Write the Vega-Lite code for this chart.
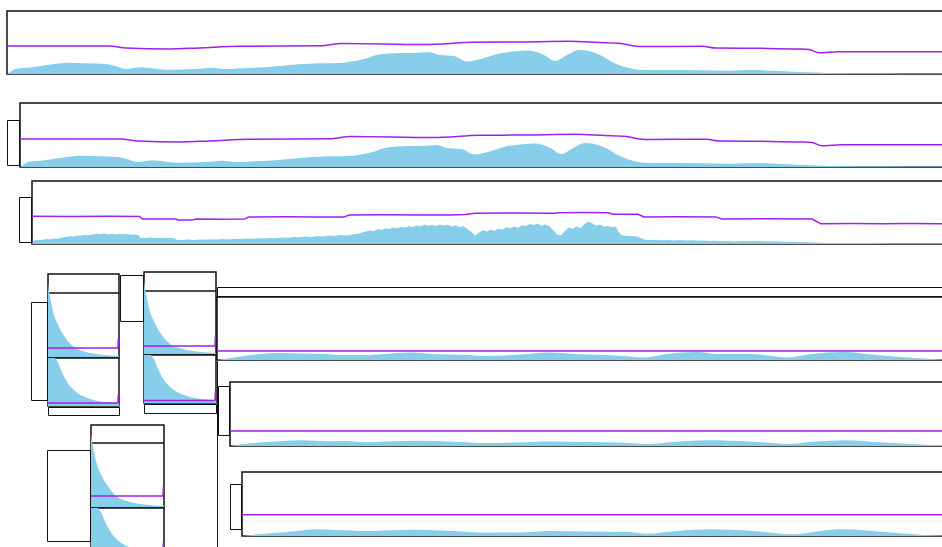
{
"$schema": "https://vega.github.io/schema/vega-lite/v6.json",
"padding": {"left": 6, "top": 10, "right": 0, "bottom": 0},
"config": {"view": {"stroke": "#111", "strokeWidth": 1.5}, "concat": {"spacing": -4}},
"datasets": {
"one": [{"k": 1}],
"r64": [{"x": 0, "x2": 71, "y": 64}],
"r63": [{"x": 0, "x2": 71, "y": 63}],
"aA": [{"x":0,"y":0},{"x":2,"y":1},{"x":8,"y":5},{"x":25,"y":6.7},{"x":42,"y":9.3},{"x":62,"y":11.3},{"x":79,"y":10.7},{"x":99,"y":10},{"x":109,"y":7.7},{"x":119,"y":5},{"x":135,"y":6.7},{"x":145,"y":5.7},{"x":159,"y":4.3},{"x":192,"y":5.3},{"x":205,"y":6.3},{"x":219,"y":5},{"x":242,"y":6},{"x":259,"y":6.7},{"x":275,"y":8.3},{"x":292,"y":9.7},{"x":312,"y":10.7},{"x":332,"y":11},{"x":342,"y":12},{"x":357,"y":15},{"x":372,"y":19.5},{"x":392,"y":21},{"x":407,"y":21},{"x":422,"y":22},{"x":432,"y":19},{"x":447,"y":18},{"x":460,"y":12.5},{"x":477,"y":16},{"x":492,"y":20.5},{"x":507,"y":22.5},{"x":522,"y":23.5},{"x":537,"y":19},{"x":548,"y":13},{"x":560,"y":19},{"x":572,"y":24},{"x":587,"y":21.5},{"x":597,"y":17},{"x":605,"y":12},{"x":612,"y":9},{"x":622,"y":6},{"x":632,"y":4.3},{"x":652,"y":4},{"x":692,"y":3.8},{"x":722,"y":3.3},{"x":745,"y":4},{"x":772,"y":3},{"x":792,"y":2},{"x":809,"y":1.5},{"x":822,"y":1},{"x":872,"y":0.7},{"x":934,"y":0.5},{"x":960,"y":0.5}],
"lA": [{"x":0,"y":28},{"x":102,"y":28},{"x":119,"y":26},{"x":162,"y":25},{"x":192,"y":26},{"x":232,"y":27.7},{"x":316,"y":28.3},{"x":334,"y":30.5},{"x":418,"y":29.5},{"x":466,"y":31.7},{"x":512,"y":32},{"x":562,"y":32.7},{"x":592,"y":31.5},{"x":612,"y":30.7},{"x":632,"y":27.5},{"x":695,"y":27.7},{"x":709,"y":26},{"x":752,"y":25.7},{"x":792,"y":25},{"x":802,"y":24.5},{"x":812,"y":21.3},{"x":832,"y":22.3},{"x":934,"y":22.3},{"x":960,"y":22.3}],
"aC": [{"x":0,"y":0},{"x":2,"y":3.5},{"x":6,"y":4.2},{"x":10,"y":4.0},{"x":14,"y":4.9},{"x":18,"y":4.6},{"x":22,"y":5.6},{"x":26,"y":5.2},{"x":30,"y":6.4},{"x":34,"y":6.9},{"x":38,"y":7.8},{"x":42,"y":7.4},{"x":46,"y":8.6},{"x":50,"y":8.2},{"x":54,"y":9.1},{"x":58,"y":8.7},{"x":62,"y":9.6},{"x":66,"y":10.3},{"x":70,"y":9.8},{"x":74,"y":10.4},{"x":78,"y":9.6},{"x":82,"y":10.1},{"x":86,"y":9.4},{"x":90,"y":10.2},{"x":94,"y":9.7},{"x":98,"y":9.9},{"x":102,"y":9.2},{"x":106,"y":9.6},{"x":109,"y":9.0},{"x":111,"y":6.2},{"x":116,"y":6.0},{"x":122,"y":6.4},{"x":128,"y":5.9},{"x":134,"y":6.3},{"x":140,"y":6.0},{"x":146,"y":5.8},{"x":148,"y":4.2},{"x":154,"y":4.0},{"x":160,"y":4.4},{"x":166,"y":4.1},{"x":172,"y":4.6},{"x":178,"y":4.3},{"x":184,"y":4.8},{"x":190,"y":4.5},{"x":196,"y":4.9},{"x":202,"y":4.6},{"x":208,"y":5.3},{"x":214,"y":5.0},{"x":220,"y":5.6},{"x":226,"y":5.2},{"x":232,"y":5.8},{"x":238,"y":5.4},{"x":244,"y":6.0},{"x":250,"y":5.7},{"x":256,"y":6.6},{"x":262,"y":6.2},{"x":268,"y":7.1},{"x":274,"y":6.7},{"x":280,"y":7.5},{"x":286,"y":7.1},{"x":292,"y":7.9},{"x":298,"y":7.6},{"x":304,"y":8.4},{"x":310,"y":8.0},{"x":316,"y":8.9},{"x":322,"y":8.6},{"x":328,"y":9.6},{"x":334,"y":10.2},{"x":338,"y":11.5},{"x":342,"y":12.4},{"x":346,"y":13.6},{"x":350,"y":13.1},{"x":354,"y":14.8},{"x":358,"y":14.2},{"x":362,"y":15.6},{"x":366,"y":15.0},{"x":370,"y":16.4},{"x":374,"y":15.7},{"x":378,"y":17.0},{"x":382,"y":16.4},{"x":386,"y":17.8},{"x":390,"y":17.1},{"x":394,"y":18.5},{"x":398,"y":17.6},{"x":402,"y":19.4},{"x":406,"y":18.3},{"x":410,"y":19.0},{"x":414,"y":17.9},{"x":418,"y":19.6},{"x":422,"y":18.4},{"x":426,"y":19.2},{"x":430,"y":17.6},{"x":434,"y":18.6},{"x":438,"y":16.9},{"x":442,"y":17.8},{"x":446,"y":15.2},{"x":450,"y":12.0},{"x":454,"y":8.5},{"x":458,"y":11.2},{"x":462,"y":13.8},{"x":466,"y":12.6},{"x":470,"y":14.4},{"x":474,"y":13.2},{"x":478,"y":15.6},{"x":482,"y":14.6},{"x":486,"y":16.8},{"x":490,"y":15.9},{"x":494,"y":17.5},{"x":498,"y":16.2},{"x":502,"y":18.8},{"x":506,"y":17.9},{"x":510,"y":20.1},{"x":514,"y":19.0},{"x":518,"y":20.6},{"x":522,"y":18.2},{"x":526,"y":19.4},{"x":530,"y":17.5},{"x":534,"y":14.0},{"x":538,"y":9.5},{"x":542,"y":8.8},{"x":546,"y":13.0},{"x":550,"y":16.5},{"x":554,"y":15.2},{"x":558,"y":17.8},{"x":562,"y":16.1},{"x":566,"y":20.0},{"x":570,"y":22.3},{"x":574,"y":20.8},{"x":578,"y":18.2},{"x":582,"y":19.5},{"x":586,"y":17.4},{"x":590,"y":18.1},{"x":594,"y":16.8},{"x":598,"y":17.2},{"x":601,"y":12.0},{"x":604,"y":9.0},{"x":608,"y":8.3},{"x":614,"y":8.0},{"x":620,"y":7.4},{"x":624,"y":6.0},{"x":628,"y":4.2},{"x":634,"y":4.0},{"x":640,"y":4.3},{"x":646,"y":3.8},{"x":652,"y":4.0},{"x":658,"y":3.6},{"x":664,"y":3.9},{"x":670,"y":3.5},{"x":676,"y":3.7},{"x":682,"y":3.3},{"x":688,"y":3.5},{"x":694,"y":3.1},{"x":700,"y":3.2},{"x":706,"y":2.8},{"x":712,"y":2.9},{"x":718,"y":2.5},{"x":724,"y":2.8},{"x":730,"y":3.0},{"x":736,"y":2.7},{"x":742,"y":3.1},{"x":748,"y":2.8},{"x":754,"y":2.6},{"x":760,"y":2.4},{"x":766,"y":2.5},{"x":772,"y":2.1},{"x":778,"y":2.2},{"x":784,"y":1.9},{"x":790,"y":1.8},{"x":796,"y":1.7},{"x":802,"y":1.5},{"x":808,"y":1.2},{"x":814,"y":1.1},{"x":820,"y":1.0},{"x":830,"y":1.0},{"x":840,"y":0.9},{"x":860,"y":0.9},{"x":880,"y":0.8},{"x":900,"y":0.8},{"x":920,"y":0.7},{"x":940,"y":0.7},{"x":960,"y":0.6}],
"lC": [{"x":0,"y":27.7},{"x":40,"y":27.5},{"x":80,"y":27.8},{"x":110,"y":27.6},{"x":113,"y":25.0},{"x":147,"y":25.1},{"x":150,"y":24.0},{"x":165,"y":24.1},{"x":168,"y":25.0},{"x":190,"y":24.8},{"x":218,"y":25.1},{"x":222,"y":27.0},{"x":260,"y":27.2},{"x":290,"y":26.9},{"x":320,"y":27.1},{"x":325,"y":29.0},{"x":360,"y":29.2},{"x":400,"y":28.9},{"x":423,"y":29.1},{"x":428,"y":29.0},{"x":444,"y":29.6},{"x":454,"y":30.7},{"x":490,"y":30.9},{"x":535,"y":30.7},{"x":540,"y":31.3},{"x":565,"y":31.5},{"x":590,"y":31.3},{"x":596,"y":29.7},{"x":621,"y":29.7},{"x":627,"y":27.0},{"x":660,"y":27.2},{"x":701,"y":26.9},{"x":707,"y":25.0},{"x":750,"y":25.2},{"x":799,"y":25.0},{"x":808,"y":20.3},{"x":840,"y":20.5},{"x":870,"y":20.2},{"x":900,"y":20.5},{"x":930,"y":20.3},{"x":960,"y":20.4}],
"aD": [{"x":0,"y":0},{"x":17,"y":2.5},{"x":34,"y":5},{"x":49,"y":6.5},{"x":64,"y":7},{"x":84,"y":6.5},{"x":107,"y":6},{"x":124,"y":5},{"x":150,"y":5},{"x":167,"y":6},{"x":194,"y":7.5},{"x":214,"y":6},{"x":250,"y":5},{"x":267,"y":4},{"x":287,"y":4.5},{"x":317,"y":6.5},{"x":332,"y":7.5},{"x":357,"y":6},{"x":387,"y":5},{"x":407,"y":4},{"x":427,"y":2.5},{"x":450,"y":6},{"x":480,"y":8},{"x":500,"y":6},{"x":534,"y":6},{"x":552,"y":4.5},{"x":570,"y":2.5},{"x":594,"y":6},{"x":627,"y":8},{"x":660,"y":5},{"x":707,"y":1.5},{"x":727,"y":0.5},{"x":755,"y":0}],
"aE": [{"x":0,"y":0},{"x":23,"y":3},{"x":49,"y":4.7},{"x":73,"y":5.7},{"x":96,"y":4.7},{"x":116,"y":5},{"x":136,"y":3.7},{"x":163,"y":4.7},{"x":189,"y":5.3},{"x":223,"y":4.3},{"x":256,"y":3},{"x":286,"y":3.5},{"x":321,"y":4.5},{"x":356,"y":4},{"x":396,"y":3.3},{"x":416,"y":2},{"x":446,"y":4.3},{"x":476,"y":5.7},{"x":523,"y":4.3},{"x":559,"y":2},{"x":583,"y":4.3},{"x":616,"y":5.7},{"x":649,"y":3.7},{"x":696,"y":1.3},{"x":744,"y":0.5}],
"aF": [{"x":0,"y":0},{"x":28,"y":2.7},{"x":55,"y":5},{"x":72,"y":6.7},{"x":95,"y":6},{"x":125,"y":5},{"x":158,"y":6},{"x":178,"y":6.3},{"x":212,"y":5},{"x":245,"y":3.3},{"x":275,"y":3.5},{"x":310,"y":5},{"x":345,"y":4.5},{"x":385,"y":4},{"x":405,"y":2.3},{"x":435,"y":5},{"x":468,"y":6.7},{"x":512,"y":5},{"x":552,"y":1.7},{"x":575,"y":4.5},{"x":598,"y":6.7},{"x":652,"y":3.3},{"x":692,"y":0.7},{"x":733,"y":0.3}],
"lD": [{"x":0,"y":9},{"x":755,"y":9}],
"lE": [{"x":0,"y":15},{"x":744,"y":15}],
"lF": [{"x":0,"y":21.3},{"x":733,"y":21.3}],
"s1": [{"x":0,"y":74},{"x":1.3,"y":64},{"x":3,"y":55},{"x":6.3,"y":41},{"x":9.7,"y":33},{"x":13,"y":26},{"x":16.3,"y":21},{"x":19.7,"y":16},{"x":23,"y":12.5},{"x":26.3,"y":9.5},{"x":33,"y":6.5},{"x":39.7,"y":4.5},{"x":48,"y":3},{"x":56,"y":2},{"x":63,"y":1.5},{"x":71,"y":1}],
"s2": [{"x":0,"y":48},{"x":6,"y":48},{"x":9.7,"y":44},{"x":13,"y":36},{"x":16.3,"y":29},{"x":19.7,"y":23},{"x":23,"y":19},{"x":28,"y":14},{"x":33,"y":10.7},{"x":39.7,"y":8},{"x":46.3,"y":5.7},{"x":53,"y":4.5},{"x":60,"y":3.7},{"x":71,"y":3}],
"g1a": [{"x":0,"y":9},{"x":70,"y":9},{"x":70.4,"y":19}],
"g1b": [{"x":0,"y":3},{"x":70,"y":3},{"x":70.4,"y":12}],
"g2a": [{"x":0,"y":8},{"x":70,"y":8},{"x":70.4,"y":18}],
"g2b": [{"x":0,"y":2.5},{"x":70,"y":2.5},{"x":70.4,"y":12}],
"g3a": [{"x":0,"y":11},{"x":70,"y":11},{"x":70.4,"y":20}],
"g3b": [{"x":0,"y":5},{"x":70,"y":5},{"x":70.4,"y":13}]
},
"spacing": -4,
"vconcat": [
 {"width":960,"height":63,
  "encoding":{"x":{"field":"x","type":"quantitative","scale":{"domain":[0,960],"nice":false,"zero":false},"axis":null},"y":{"field":"y","type":"quantitative","scale":{"domain":[0,63],"nice":false},"axis":null}},
  "layer":[{"data":{"name":"aA"},"mark":{"type":"area","color":"#87CEEB","interpolate":"monotone"}},{"data":{"name":"lA"},"mark":{"type":"line","color":"#A020F0","strokeWidth":1.5,"strokeJoin":"round","interpolate":"monotone","clip":true}}]},
 {"width":960,"height":27,"data":{"name":"one"},"mark":{"type":"point","size":0,"strokeWidth":0,"opacity":0},"encoding":{},"view":{"stroke":"transparent"}},
 {"spacing":-4,"hconcat":[
   {"spacing":-4,"vconcat":[
     {"width":12,"height":16,"data":{"name":"one"},"mark":{"type":"point","size":0,"strokeWidth":0,"opacity":0},"encoding":{},"view":{"stroke":"transparent"}},
     {"width":12,"height":45,"data":{"name":"one"},"mark":{"type":"point","size":0,"strokeWidth":0,"opacity":0},"encoding":{},"view":{"stroke":"#111"}}]},
   {"width":948,"height":64,
    "encoding":{"x":{"field":"x","type":"quantitative","scale":{"domain":[0,960],"nice":false,"zero":false},"axis":null},"y":{"field":"y","type":"quantitative","scale":{"domain":[0,64],"nice":false},"axis":null}},
    "layer":[{"data":{"name":"aA"},"mark":{"type":"area","color":"#87CEEB","interpolate":"monotone"}},{"data":{"name":"lA"},"mark":{"type":"line","color":"#A020F0","strokeWidth":1.5,"strokeJoin":"round","interpolate":"monotone","clip":true}}]}]},
 {"width":960,"height":12,"data":{"name":"one"},"mark":{"type":"point","size":0,"strokeWidth":0,"opacity":0},"encoding":{},"view":{"stroke":"transparent"}},
 {"spacing":-4,"hconcat":[
   {"width":11,"height":1,"data":{"name":"one"},"mark":{"type":"point","size":0,"strokeWidth":0,"opacity":0},"encoding":{},"view":{"stroke":"transparent"}},
   {"spacing":-4,"vconcat":[
     {"width":12,"height":15,"data":{"name":"one"},"mark":{"type":"point","size":0,"strokeWidth":0,"opacity":0},"encoding":{},"view":{"stroke":"transparent"}},
     {"width":12,"height":45,"data":{"name":"one"},"mark":{"type":"point","size":0,"strokeWidth":0,"opacity":0},"encoding":{},"view":{"stroke":"#111"}}]},
   {"width":937,"height":63,
    "encoding":{"x":{"field":"x","type":"quantitative","scale":{"domain":[0,960],"nice":false,"zero":false},"axis":null},"y":{"field":"y","type":"quantitative","scale":{"domain":[0,63],"nice":false},"axis":null}},
    "layer":[{"data":{"name":"aC"},"mark":{"type":"area","color":"#87CEEB","interpolate":"linear"}},{"data":{"name":"lC"},"mark":{"type":"line","color":"#A020F0","strokeWidth":1.5,"strokeJoin":"round","interpolate":"linear","clip":true}}]}]},
 {"width":960,"height":26,"data":{"name":"one"},"mark":{"type":"point","size":0,"strokeWidth":0,"opacity":0},"encoding":{},"view":{"stroke":"transparent"}},
 {"spacing":-4,"hconcat":[
   {"spacing":-4,"vconcat":[
     {"spacing":-4,"hconcat":[
       {"width":23,"height":1,"data":{"name":"one"},"mark":{"type":"point","size":0,"strokeWidth":0,"opacity":0},"encoding":{},"view":{"stroke":"transparent"}},
       {"spacing":-4,"vconcat":[
         {"width":16,"height":29,"data":{"name":"one"},"mark":{"type":"point","size":0,"strokeWidth":0,"opacity":0},"encoding":{},"view":{"stroke":"transparent"}},
         {"width":16,"height":98,"data":{"name":"one"},"mark":{"type":"point","size":0,"strokeWidth":0,"opacity":0},"encoding":{},"view":{"stroke":"#111"}}]},
       {"spacing":-4,"vconcat":[
         {"width":71,"height":1,"data":{"name":"one"},"mark":{"type":"point","size":0,"strokeWidth":0,"opacity":0},"encoding":{},"view":{"stroke":"transparent"}},
         {"width":71,"height":83,
          "encoding":{"x":{"field":"x","type":"quantitative","scale":{"domain":[0,71],"nice":false,"zero":false},"axis":null},"y":{"field":"y","type":"quantitative","scale":{"domain":[0,83],"nice":false},"axis":null}},
          "layer":[{"data":{"name":"r64"},"mark":{"type":"rule","color":"#111","strokeWidth":1.5,"clip":true},"encoding":{"x2":{"field":"x2"}}},{"data":{"name":"s1"},"mark":{"type":"area","color":"#87CEEB","interpolate":"monotone"}},{"data":{"name":"g1a"},"mark":{"type":"line","color":"#A020F0","strokeWidth":1.5,"strokeJoin":"round","clip":true}}]},
         {"width":71,"height":48,
          "encoding":{"x":{"field":"x","type":"quantitative","scale":{"domain":[0,71],"nice":false,"zero":false},"axis":null},"y":{"field":"y","type":"quantitative","scale":{"domain":[0,48],"nice":false},"axis":null}},
          "layer":[{"data":{"name":"s2"},"mark":{"type":"area","color":"#87CEEB","interpolate":"monotone"}},{"data":{"name":"g1b"},"mark":{"type":"line","color":"#A020F0","strokeWidth":1.5,"strokeJoin":"round","clip":true}}]},
         {"width":71,"height":8,"data":{"name":"one"},"mark":{"type":"point","size":0,"strokeWidth":0,"opacity":0},"encoding":{},"view":{"stroke":"#111"}}]},
       {"spacing":-4,"vconcat":[
         {"width":23,"height":2,"data":{"name":"one"},"mark":{"type":"point","size":0,"strokeWidth":0,"opacity":0},"encoding":{},"view":{"stroke":"transparent"}},
         {"width":23,"height":46,"data":{"name":"one"},"mark":{"type":"point","size":0,"strokeWidth":0,"opacity":0},"encoding":{},"view":{"stroke":"#111"}}]},
       {"spacing":-4,"vconcat":[
         {"width":72,"height":82,
          "encoding":{"x":{"field":"x","type":"quantitative","scale":{"domain":[0,71],"nice":false,"zero":false},"axis":null},"y":{"field":"y","type":"quantitative","scale":{"domain":[0,82],"nice":false},"axis":null}},
          "layer":[{"data":{"name":"r63"},"mark":{"type":"rule","color":"#111","strokeWidth":1.5,"clip":true},"encoding":{"x2":{"field":"x2"}}},{"data":{"name":"s1"},"mark":{"type":"area","color":"#87CEEB","interpolate":"monotone"}},{"data":{"name":"g2a"},"mark":{"type":"line","color":"#A020F0","strokeWidth":1.5,"strokeJoin":"round","clip":true}}]},
         {"width":72,"height":48,
          "encoding":{"x":{"field":"x","type":"quantitative","scale":{"domain":[0,71],"nice":false,"zero":false},"axis":null},"y":{"field":"y","type":"quantitative","scale":{"domain":[0,48],"nice":false},"axis":null}},
          "layer":[{"data":{"name":"s2"},"mark":{"type":"area","color":"#87CEEB","interpolate":"monotone"}},{"data":{"name":"g2b"},"mark":{"type":"line","color":"#A020F0","strokeWidth":1.5,"strokeJoin":"round","clip":true}}]},
         {"width":72,"height":9,"data":{"name":"one"},"mark":{"type":"point","size":0,"strokeWidth":0,"opacity":0},"encoding":{},"view":{"stroke":"#111"}}]}]},
     {"width":205,"height":8,"data":{"name":"one"},"mark":{"type":"point","size":0,"strokeWidth":0,"opacity":0},"encoding":{},"view":{"stroke":"transparent"}},
     {"spacing":-4,"hconcat":[
       {"width":39,"height":1,"data":{"name":"one"},"mark":{"type":"point","size":0,"strokeWidth":0,"opacity":0},"encoding":{},"view":{"stroke":"transparent"}},
       {"spacing":-4,"vconcat":[
         {"width":43,"height":24,"data":{"name":"one"},"mark":{"type":"point","size":0,"strokeWidth":0,"opacity":0},"encoding":{},"view":{"stroke":"transparent"}},
         {"width":43,"height":91,"data":{"name":"one"},"mark":{"type":"point","size":0,"strokeWidth":0,"opacity":0},"encoding":{},"view":{"stroke":"#111"}}]},
       {"spacing":-4,"vconcat":[
         {"width":73,"height":82,
          "encoding":{"x":{"field":"x","type":"quantitative","scale":{"domain":[0,71],"nice":false,"zero":false},"axis":null},"y":{"field":"y","type":"quantitative","scale":{"domain":[0,82],"nice":false},"axis":null}},
          "layer":[{"data":{"name":"r64"},"mark":{"type":"rule","color":"#111","strokeWidth":1.5,"clip":true},"encoding":{"x2":{"field":"x2"}}},{"data":{"name":"s1"},"mark":{"type":"area","color":"#87CEEB","interpolate":"monotone"}},{"data":{"name":"g3a"},"mark":{"type":"line","color":"#A020F0","strokeWidth":1.5,"strokeJoin":"round","clip":true}}]},
         {"width":73,"height":48,
          "encoding":{"x":{"field":"x","type":"quantitative","scale":{"domain":[0,71],"nice":false,"zero":false},"axis":null},"y":{"field":"y","type":"quantitative","scale":{"domain":[0,48],"nice":false},"axis":null}},
          "layer":[{"data":{"name":"s2"},"mark":{"type":"area","color":"#87CEEB","interpolate":"monotone"}},{"data":{"name":"g3b"},"mark":{"type":"line","color":"#A020F0","strokeWidth":1.5,"strokeJoin":"round","clip":true}}]},
         {"width":73,"height":8,"data":{"name":"one"},"mark":{"type":"point","size":0,"strokeWidth":0,"opacity":0},"encoding":{},"view":{"stroke":"#111"}}]}]}]},
   {"spacing":-4,"vconcat":[
     {"width":755,"height":14,"data":{"name":"one"},"mark":{"type":"point","size":0,"strokeWidth":0,"opacity":0},"encoding":{},"view":{"stroke":"transparent"}},
     {"width":755,"height":9,"data":{"name":"one"},"mark":{"type":"point","size":0,"strokeWidth":0,"opacity":0},"encoding":{},"view":{"stroke":"#111"}},
     {"width":755,"height":63,
      "encoding":{"x":{"field":"x","type":"quantitative","scale":{"domain":[0,755],"nice":false,"zero":false},"axis":null},"y":{"field":"y","type":"quantitative","scale":{"domain":[0,63],"nice":false},"axis":null}},
      "layer":[{"data":{"name":"aD"},"mark":{"type":"area","color":"#87CEEB","interpolate":"monotone"}},{"data":{"name":"lD"},"mark":{"type":"line","color":"#A020F0","strokeWidth":1.5,"strokeJoin":"round","clip":true}}]},
     {"spacing":-4,"hconcat":[
       {"width":0.01,"height":190,"data":{"name":"one"},"mark":{"type":"point","size":0,"strokeWidth":0,"opacity":0},"encoding":{},"view":{"stroke":"#111"}},
       {"spacing":-4,"vconcat":[
         {"spacing":-4,"hconcat":[
           {"spacing":-4,"vconcat":[
             {"width":11,"height":24,"data":{"name":"one"},"mark":{"type":"point","size":0,"strokeWidth":0,"opacity":0},"encoding":{},"view":{"stroke":"transparent"}},
             {"width":11,"height":49,"data":{"name":"one"},"mark":{"type":"point","size":0,"strokeWidth":0,"opacity":0},"encoding":{},"view":{"stroke":"#111"}}]},
           {"spacing":-4,"vconcat":[
             {"width":744,"height":20,"data":{"name":"one"},"mark":{"type":"point","size":0,"strokeWidth":0,"opacity":0},"encoding":{},"view":{"stroke":"transparent"}},
             {"width":744,"height":64,
              "encoding":{"x":{"field":"x","type":"quantitative","scale":{"domain":[0,744],"nice":false,"zero":false},"axis":null},"y":{"field":"y","type":"quantitative","scale":{"domain":[0,64],"nice":false},"axis":null}},
              "layer":[{"data":{"name":"aE"},"mark":{"type":"area","color":"#87CEEB","interpolate":"monotone"}},{"data":{"name":"lE"},"mark":{"type":"line","color":"#A020F0","strokeWidth":1.5,"strokeJoin":"round","clip":true}}]}]}]},
         {"spacing":-4,"hconcat":[
           {"width":11,"height":1,"data":{"name":"one"},"mark":{"type":"point","size":0,"strokeWidth":0,"opacity":0},"encoding":{},"view":{"stroke":"transparent"}},
           {"spacing":-4,"vconcat":[
             {"width":11,"height":36,"data":{"name":"one"},"mark":{"type":"point","size":0,"strokeWidth":0,"opacity":0},"encoding":{},"view":{"stroke":"transparent"}},
             {"width":11,"height":45,"data":{"name":"one"},"mark":{"type":"point","size":0,"strokeWidth":0,"opacity":0},"encoding":{},"view":{"stroke":"#111"}}]},
           {"spacing":-4,"vconcat":[
             {"width":733,"height":24,"data":{"name":"one"},"mark":{"type":"point","size":0,"strokeWidth":0,"opacity":0},"encoding":{},"view":{"stroke":"transparent"}},
             {"width":733,"height":64,
              "encoding":{"x":{"field":"x","type":"quantitative","scale":{"domain":[0,733],"nice":false,"zero":false},"axis":null},"y":{"field":"y","type":"quantitative","scale":{"domain":[0,64],"nice":false},"axis":null}},
              "layer":[{"data":{"name":"aF"},"mark":{"type":"area","color":"#87CEEB","interpolate":"monotone"}},{"data":{"name":"lF"},"mark":{"type":"line","color":"#A020F0","strokeWidth":1.5,"strokeJoin":"round","clip":true}}]}]}]},
         {"width":755,"height":18,"data":{"name":"one"},"mark":{"type":"point","size":0,"strokeWidth":0,"opacity":0},"encoding":{},"view":{"stroke":"transparent"}}]}]},
     {"width":755,"height":0.01,"data":{"name":"one"},"mark":{"type":"point","size":0,"strokeWidth":0,"opacity":0},"encoding":{},"view":{"stroke":"#111"}}]}]}
]
}
